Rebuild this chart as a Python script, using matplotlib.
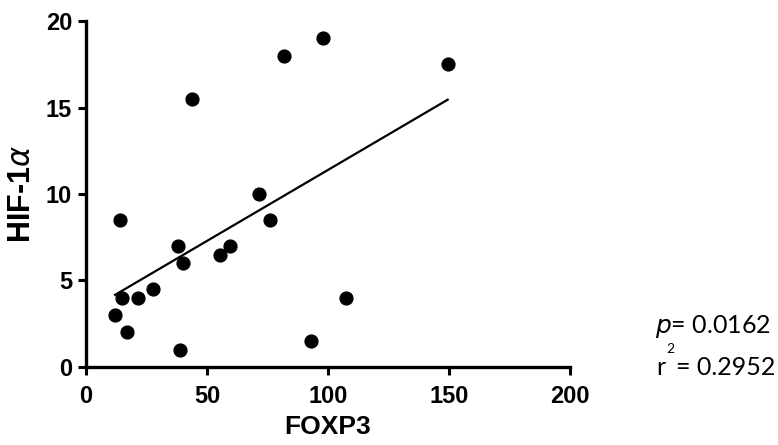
import matplotlib
matplotlib.use('Agg')
import matplotlib.pyplot as plt
from matplotlib import font_manager
import numpy as np

# FOXP3 vs HIF-1a values
foxp3 = [12, 14, 15, 17, 21.5, 27.5, 38, 40, 39, 44, 55.5, 59.5, 71.5, 76, 82, 93, 98, 107.5, 149.5]
hif1a = [3, 8.5, 4, 2, 4, 4.5, 7, 6, 1, 15.5, 6.5, 7, 10, 8.5, 18, 1.5, 19, 4, 17.5]
x_ticks = [0, 50, 100, 150, 200]
y_ticks = [0, 5, 10, 15, 20]
p_text = '0.0162'
r2_text = '0.2952'

installed = {f.name for f in font_manager.fontManager.ttflist}
narrow = 'Liberation Sans Narrow' if 'Liberation Sans Narrow' in installed else 'Liberation Sans'

plt.rcParams['font.family'] = ['Liberation Sans', 'DejaVu Sans']
plt.rcParams['mathtext.fontset'] = 'dejavusans'

fig = plt.figure(figsize=(7.78, 4.45), dpi=100)
ax = fig.add_axes([0.1105, 0.1753, 0.622, 0.7775])

x = np.array(foxp3)
y = np.array(hif1a)
slope, intercept = np.polyfit(x, y, 1)
xs = np.linspace(x.min(), x.max(), 50)

ax.plot(xs, slope * xs + intercept, color='black', lw=1.6, zorder=2)
ax.scatter(x, y, s=85, color='black', zorder=3, clip_on=False)

ax.set_xlim(0, 200)
ax.set_ylim(0, 20)
ax.set_xticks(x_ticks)
ax.set_yticks(y_ticks)
for side in ['top', 'right']:
    ax.spines[side].set_visible(False)
for side in ['left', 'bottom']:
    ax.spines[side].set_linewidth(2.4)
ax.tick_params(direction='out', length=6, width=2.2)
ax.tick_params(axis='x', pad=7)
ax.tick_params(axis='y', pad=4)
for lab in ax.get_xticklabels() + ax.get_yticklabels():
    lab.set_fontweight('bold')
    lab.set_family(narrow)
    lab.set_fontsize(17)

ax.set_xlabel('FOXP3', fontsize=19, fontweight='bold', family=narrow, labelpad=5)
ax.set_ylabel(r'HIF-1$\mathit{\alpha}$', fontsize=22, fontweight='bold', labelpad=6)

fig.text(0.842, 0.2517, r'$\mathit{p}$= ' + p_text, fontsize=18, family='Lato',
         ha='left', va='baseline')
fig.text(0.844, 0.157, 'r', fontsize=18, family='Lato', ha='left', va='baseline')
fig.text(0.856, 0.2067, '2', fontsize=10, family='Lato', ha='left', va='baseline')
fig.text(0.869, 0.157, '= ' + r2_text, fontsize=18, family='Lato', ha='left', va='baseline')

fig.savefig('out.png', dpi=100)
